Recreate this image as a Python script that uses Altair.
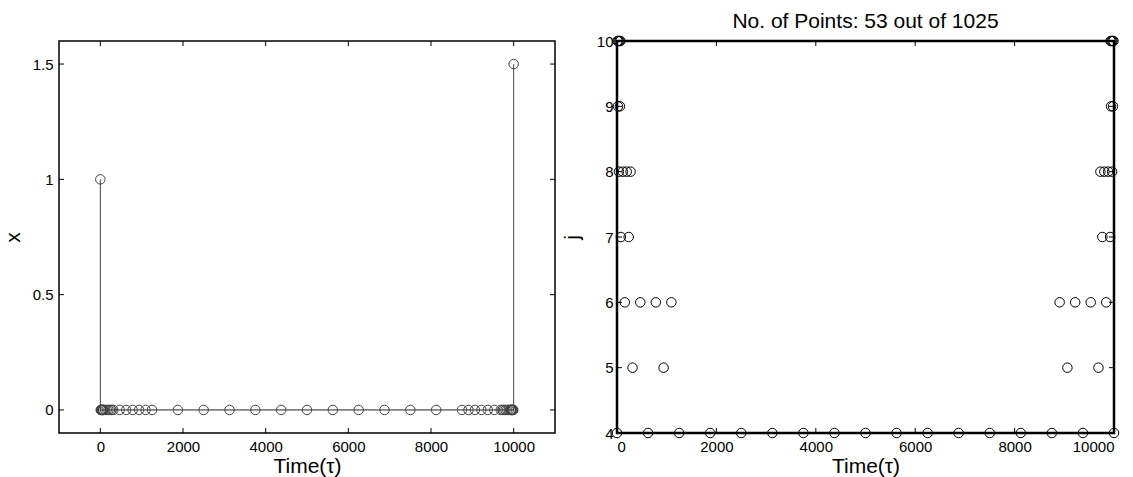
import altair as alt
import pandas as pd

# Sample times per level j
times_j4 = [0, 625, 1250, 1875, 2500, 3125, 3750, 4375, 5000, 5625, 6250, 6875, 7500, 8125, 8750, 9375, 10000]
times_j5 = [312.5, 937.5, 9062.5, 9687.5]
times_j6 = [156.25, 468.75, 781.25, 1093.75, 8906.25, 9218.75, 9531.25, 9843.75]
times_j7 = [78.1, 234.4, 9765.6, 9921.9]
times_j8 = [39.1, 117.2, 195.3, 273.4, 9726.6, 9804.7, 9882.8, 9960.9]
times_j9 = [19.5, 58.6, 9941.4, 9980.5]
times_j10 = [9.8, 29.3, 48.8, 68.4, 9931.6, 9951.2, 9970.7, 9990.2]

# nonzero x values (all other samples are 0)
x_nonzero = {0: 1.0, 10000: 1.5}

left_xticks = [0, 2000, 4000, 6000, 8000, 10000]
left_yticks = [0, 0.5, 1, 1.5]
right_xticks = [0, 2000, 4000, 6000, 8000, 10000]
right_yticks = [4, 5, 6, 7, 8, 9, 10]

rows = []
for j, ts in [(4, times_j4), (5, times_j5), (6, times_j6), (7, times_j7),
              (8, times_j8), (9, times_j9), (10, times_j10)]:
    for t in ts:
        rows.append({"time": t, "j": j, "x": x_nonzero.get(t, 0.0)})
df = pd.DataFrame(rows)

FONT = "Liberation Sans"
W, H = 496, 392
TL = 5


def make_axis(values, title, label_pad, title_pad, fmt):
    return alt.Axis(values=values, title=title, ticks=False, domain=False, grid=False,
                    format=fmt,
                    labelFont=FONT, labelFontSize=15, labelColor="black", labelPadding=label_pad,
                    titleFont=FONT, titleFontSize=21, titleFontWeight="normal", titleColor="black",
                    titlePadding=title_pad)


def tick_layers(xticks, yticks, xscale, yscale, xaxis, yaxis, w, h):
    dx = pd.DataFrame({"v": xticks})
    dy = pd.DataFrame({"v": yticks})
    xenc = alt.X("v:Q", scale=xscale, axis=xaxis)
    yenc = alt.Y("v:Q", scale=yscale, axis=yaxis)
    base_x = alt.Chart(dx).mark_rule(color="black", strokeWidth=1)
    base_y = alt.Chart(dy).mark_rule(color="black", strokeWidth=1)
    return [
        base_x.encode(x=xenc, y=alt.value(h), y2=alt.value(h - TL)),
        base_x.encode(x=xenc, y=alt.value(0), y2=alt.value(TL)),
        base_y.encode(y=yenc, x=alt.value(0), x2=alt.value(TL)),
        base_y.encode(y=yenc, x=alt.value(w), x2=alt.value(w - TL)),
    ]

# ---- Left panel ----
lx = alt.Scale(domain=[-1000, 11000], nice=False, zero=False)
ly = alt.Scale(domain=[-0.1, 1.6], nice=False, zero=False)
xaxis_l = make_axis(left_xticks, "Time(τ)", 6, 1, "d")
yaxis_l = make_axis(left_yticks, "x", 6, 9, "~g")

baseline = alt.Chart(df).transform_calculate(zero="0").mark_rule(color="#222", strokeWidth=1).encode(
    x=alt.X("min(time):Q", scale=lx, axis=xaxis_l),
    x2="max(time)",
    y=alt.Y("zero:Q", scale=ly, axis=yaxis_l),
)
stems = alt.Chart(df).transform_calculate(zero="0").mark_rule(color="#444", strokeWidth=1).encode(
    x=alt.X("time:Q", scale=lx, axis=xaxis_l),
    y=alt.Y("x:Q", scale=ly, axis=yaxis_l),
    y2=alt.Y2("zero:Q"),
)
pts_l = alt.Chart(df).mark_point(shape="circle", filled=False, size=90, color="#444",
                                 strokeWidth=1, opacity=1).encode(
    x=alt.X("time:Q", scale=lx, axis=xaxis_l),
    y=alt.Y("x:Q", scale=ly, axis=yaxis_l),
)
left = alt.layer(baseline, stems, pts_l,
                 *tick_layers(left_xticks, left_yticks, lx, ly, xaxis_l, yaxis_l, W, H)).properties(
    width=W, height=H,
    view=alt.ViewBackground(stroke="black", strokeWidth=1.5),
)

# ---- Right panel ----
rx = alt.Scale(domain=[0, 10000], nice=False, zero=False)
ry = alt.Scale(domain=[4, 10], nice=False, zero=False)
xaxis_r = make_axis(right_xticks, "Time(τ)", 6, 1, "d")
yaxis_r = make_axis(right_yticks, "j", 4, 14, "d")
pts_r = alt.Chart(df).mark_point(shape="circle", filled=False, size=90, color="black",
                                 strokeWidth=1, opacity=1).encode(
    x=alt.X("time:Q", scale=rx, axis=xaxis_r),
    y=alt.Y("j:Q", scale=ry, axis=yaxis_r),
)
right = alt.layer(pts_r, *tick_layers(right_xticks, right_yticks, rx, ry, xaxis_r, yaxis_r,
                                      W + 1, H)).properties(
    width=W + 1, height=H,
    title=alt.TitleParams("No. of Points: 53 out of 1025", font=FONT, fontSize=21,
                          fontWeight="normal", color="black", offset=2),
    view=alt.ViewBackground(stroke="black", strokeWidth=2.5),
)

chart = alt.hconcat(left, right, spacing=62, bounds="flush").properties(
    padding={"left": 1, "top": 9, "right": 0, "bottom": 0},
    background="white",
)
chart.save("out.html", embed_options={"renderer": "svg", "actions": False})
